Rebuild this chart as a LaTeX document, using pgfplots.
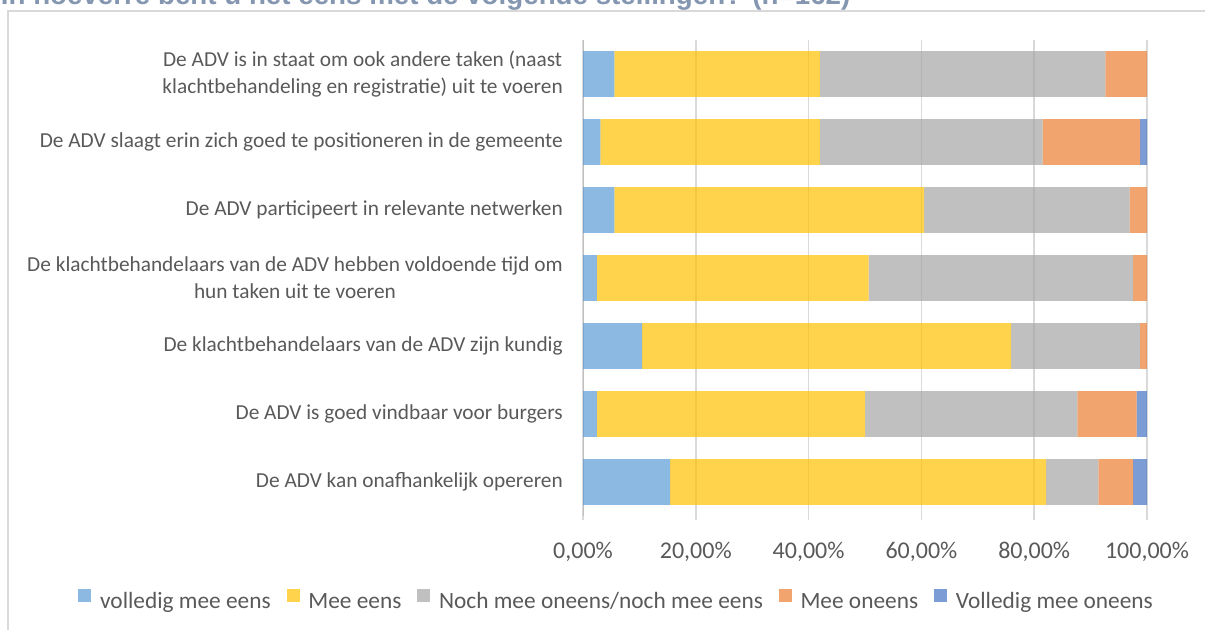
\documentclass[border=0pt]{standalone}
\usepackage{pgfplots}
\pgfplotsset{compat=1.18}
\usepackage{pgfplotstable}
\usepackage{fontspec}
\setmainfont{Carlito}
\newfontfamily\titlefont{Liberation Sans}

\definecolor{c1}{HTML}{5B9BD5}
\definecolor{c2}{HTML}{FFC000}
\definecolor{c3}{HTML}{A5A5A5}
\definecolor{c4}{HTML}{ED7D31}
\definecolor{c5}{HTML}{4472C4}
\definecolor{txt}{HTML}{595959}
\definecolor{gridc}{HTML}{D9D9D9}
\definecolor{axc}{HTML}{BFBFBF}
\definecolor{ttl}{HTML}{8496B0}

% aandeel per stelling (n=162), bovenste stelling op y=6
\pgfplotstableread{
y  vol    mee    noch   on     von
6  5.56   36.42  50.62  7.41   0
5  3.09   38.89  39.51  17.28  1.23
4  5.56   54.94  36.42  3.09   0
3  2.47   48.15  46.91  2.47   0
2  10.49  65.43  22.84  1.23   0
1  2.47   47.53  37.65  10.49  1.85
0  15.43  66.67  9.26   6.17   2.47
}\stelling

\begin{document}
\begin{tikzpicture}
\path[use as bounding box] (0,0) rectangle (903.75pt,-472.5pt);
\clip (0,0) rectangle (903.75pt,-472.5pt);

% titel valt grotendeels buiten beeld
\node[anchor=base west, inner sep=0pt, text=ttl,
  font=\titlefont\bfseries\fontsize{20.8}{24}\selectfont] at (0.5pt,-3.4pt)
  {In hoeverre bent u het eens met de volgende stellingen? (n=162)};
\draw[gridc, line width=1.5pt] (6.2pt,-480pt) -- (6.2pt,-8.6pt) -- (910pt,-8.6pt);

\begin{axis}[
  at={(437.25pt,-387pt)}, anchor=south west,
  width=423pt, height=357pt, scale only axis,
  xbar stacked, bar width=0.67,
  xmin=0, xmax=100, ymin=-0.5, ymax=6.5,
  xtick={0,20,40,60,80,100},
  xticklabels={{0,00\%},{20,00\%},{40,00\%},{60,00\%},{80,00\%},{100,00\%}},
  ytick={0,1,2,3,4,5,6},
  yticklabels={
    {De ADV kan onafhankelijk opereren},
    {De ADV is goed vindbaar voor burgers},
    {De klachtbehandelaars van de ADV zijn kundig},
    {De klachtbehandelaars van de ADV hebben voldoende tijd om\\hun taken uit te voeren},
    {De ADV participeert in relevante netwerken},
    {De ADV slaagt erin zich goed te positioneren in de gemeente},
    {De ADV is in staat om ook andere taken (naast\\klachtbehandeling en registratie) uit te voeren}},
  xmajorgrids, grid style={gridc, line width=1.1pt},
  axis line style={draw=none},
  tick align=outside, major tick length=3pt,
  xtick pos=bottom, ytick pos=left,
  xtick style={gridc, line width=1.1pt},
  ytick style={draw=none},
  xticklabel style={font=\fontsize{18}{21}\selectfont, text=txt,
    inner sep=0pt, yshift=-16.5pt},
  yticklabel style={font=\fontsize{16}{20}\selectfont, text=txt,
    align=center, inner sep=0pt, xshift=-12pt},
  legend columns=-1,
  legend style={at={(0.0603,-0.1786)}, anchor=center, draw=none, fill=none,
    font=\fontsize{17.5}{21}\selectfont, text=txt,
    /tikz/every odd column/.append style={column sep=4.5pt},
    /tikz/every even column/.append style={column sep=10pt}},
  legend image code/.code={\fill[#1] (0pt,0pt) rectangle (9.75pt,9.75pt);},
]
\addplot[fill=c1, fill opacity=0.7, draw=none] table[x=vol, y=y] {\stelling};
\addplot[fill=c2, fill opacity=0.7, draw=none] table[x=mee, y=y] {\stelling};
\addplot[fill=c3, fill opacity=0.7, draw=none] table[x=noch, y=y] {\stelling};
\addplot[fill=c4, fill opacity=0.7, draw=none] table[x=on, y=y] {\stelling};
\addplot[fill=c5, fill opacity=0.7, draw=none] table[x=von, y=y] {\stelling};
\legend{volledig mee eens, Mee eens, Noch mee oneens/noch mee eens, Mee oneens, Volledig mee oneens}
\draw[axc, line width=1.5pt] (axis cs:0,-0.5) -- (axis cs:0,6.5);
\end{axis}
\end{tikzpicture}
\end{document}
